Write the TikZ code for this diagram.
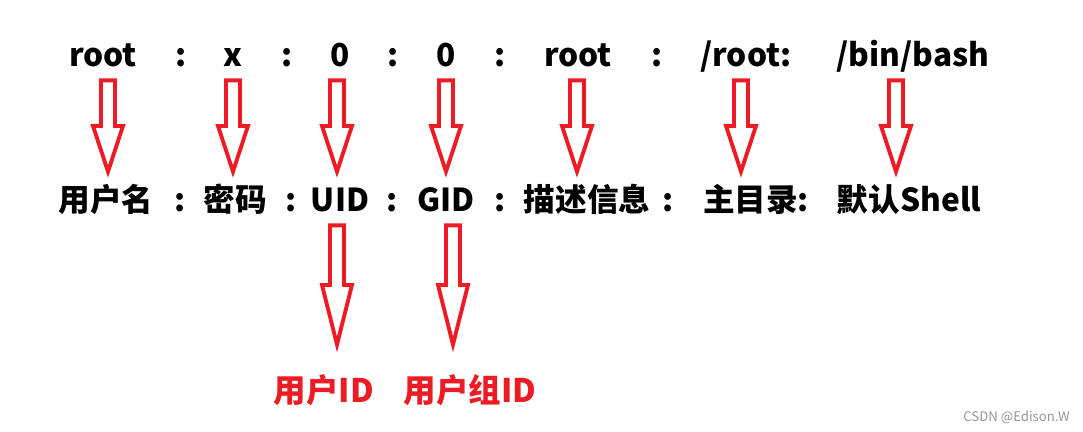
\documentclass[tikz,border=0pt]{standalone}
\usepackage{fontspec}
\setmainfont{Noto Sans CJK SC}
\usetikzlibrary{calc}
\definecolor{paintred}{RGB}{237,28,36}
\definecolor{mark}{RGB}{150,150,150}
\tikzset{
  word/.style={font=\fontsize{18}{20}\selectfont\bfseries,inner sep=0pt,
    text height=16pt,text depth=4pt,anchor=base},
  redword/.style={word,text=paintred,font=\fontsize{18.5}{20}\selectfont\bfseries},
  hollow arrow/.style={draw=paintred,line width=2.2pt,fill=white},
}
% block arrow from one label down to another: top, bottom, x shift, gap above tip
\newcommand\redarrow[4]{%
  \draw[hollow arrow] let \p1=($(#1.south)+(#3,-1.2mm)$), \p2=($(#2.north)+(#3,#4)$),
    \p3=($(\p1)!0.5!(\p2)$) in
    (\x1-1.4mm,\y1) -- (\x1+1.4mm,\y1) -- (\x1+1.4mm,\y3) -- (\x1+3mm,\y3)
    -- (\x1,\y2) -- (\x1-3mm,\y3) -- (\x1-1.4mm,\y3) -- cycle;}

\begin{document}
\begin{tikzpicture}[x=0.02cm,y=-0.02cm]
  \useasboundingbox (0,0) rectangle (1083,432);
  % the passwd line
  \node[word] (user) at (103,67) {root};
  \node[word] (c1) at (181,67) {:};
  \node[word] (pass) at (233,67) {x};
  \node[word] (c2) at (287,67) {:};
  \node[word] (uid) at (340,67) {0};
  \node[word] (c3) at (393,67) {:};
  \node[word] (gid) at (446,67) {0};
  \node[word] (c4) at (500,67) {:};
  \node[word] (info) at (578,67) {root};
  \node[word] (c5) at (657,67) {:};
  \node[word] (home) at (746,67) {/root:};
  \node[word] (shell) at (913,67) {/bin/bash};
  % field names
  \node[word] (userN) at (106,212) {用户名};
  \node[word] (d1) at (180,212) {:};
  \node[word] (passN) at (235,212) {密码};
  \node[word] (d2) at (291,212) {:};
  \node[word] (uidN) at (340,212) {UID};
  \node[word] (d3) at (392,212) {:};
  \node[word] (gidN) at (446,212) {GID};
  \node[word] (d4) at (500,212) {:};
  \node[word] (infoN) at (587,212) {描述信息};
  \node[word] (d5) at (668,212) {:};
  \node[word] (homeN) at (756,212) {主目录:};
  \node[word] (shellN) at (909,212) {默认Shell};
  % meaning of the ids
  \node[redword] (uidM) at (324,403) {用户ID};
  \node[redword] (gidM) at (470,403) {用户组ID};
  \node[text=mark,font=\fontsize{7.5}{9}\selectfont,inner sep=0pt,anchor=base east] (csdn) at (1070,422) {CSDN @Edison.W};

  \redarrow{user}{userN}{1mm}{2.4mm}
  \redarrow{pass}{passN}{0mm}{2.4mm}
  \redarrow{uid}{uidN}{-0.6mm}{2.4mm}
  \redarrow{gid}{gidN}{0mm}{2.4mm}
  \redarrow{info}{infoN}{-0.2mm}{2.4mm}
  \redarrow{home}{homeN}{-1mm}{2.4mm}
  \redarrow{shell}{shellN}{-3.4mm}{2.4mm}
  \redarrow{uidN}{uidM}{-0.6mm}{6mm}
  \redarrow{gidN}{gidM}{1.4mm}{6mm}
\end{tikzpicture}
\end{document}
